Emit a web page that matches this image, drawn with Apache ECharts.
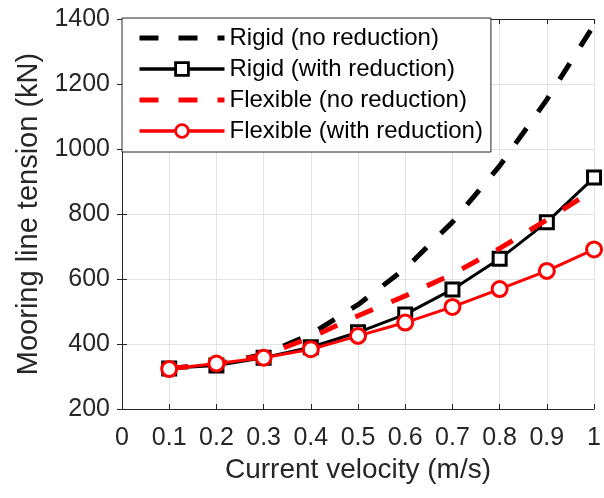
<!DOCTYPE html>
<html>
<head>
<meta charset="utf-8">
<script src="https://cdn.jsdelivr.net/npm/echarts@6/dist/echarts.min.js"></script>
<style>
html,body{margin:0;padding:0;background:#fff;}
#chart{width:604px;height:498px;}
</style>
</head>
<body>
<div id="chart"></div>
<script>
const velocity = [0.1, 0.2, 0.3, 0.4, 0.5, 0.6, 0.7, 0.8, 0.9, 1.0];
const rigidNoReduction = [325, 338, 368, 430, 521, 632, 775, 948, 1152, 1382];
const rigidWithReduction = [325, 334, 358, 390, 436, 491, 568, 662, 775, 912];
const flexibleNoReduction = [325, 338, 365, 420, 487, 548, 615, 694, 782, 875];
const flexibleWithReduction = [323, 340, 358, 384, 425, 466, 514, 569, 625, 691];
const xTicks = [0, 0.1, 0.2, 0.3, 0.4, 0.5, 0.6, 0.7, 0.8, 0.9, 1];
const yTicks = [200, 400, 600, 800, 1000, 1200, 1400];
const seriesNames = ['Rigid (no reduction)', 'Rigid (with reduction)', 'Flexible (no reduction)', 'Flexible (with reduction)'];

const pair = arr => velocity.map((v, i) => [v, arr[i]]);
const FONT = 'Liberation Sans, Helvetica, Arial, sans-serif';
const TXT = '#262626';
const DASH = [19, 20];

const chart = echarts.init(document.getElementById('chart'), null, {renderer: 'canvas'});

const xFmt = v => String(parseFloat(v.toFixed(1)));
const yFmt = v => String(Math.round(v));

const option = {
  animation: false,
  backgroundColor: '#ffffff',
  grid: {left: 122, right: 5, top: 19, bottom: 89, containLabel: false},
  legend: {
    orient: 'vertical',
    left: 122, top: 18,
    padding: [8, 8, 9, 15],
    itemGap: 7,
    itemWidth: 85, itemHeight: 16,
    backgroundColor: '#ffffff',
    borderColor: TXT, borderWidth: 1,
    textStyle: {fontFamily: FONT, fontSize: 24, color: '#000'},
    data: [
      {name: seriesNames[0], lineStyle: {color: '#000', width: 5, type: DASH}, itemStyle: {color: 'rgba(0,0,0,0)', borderWidth: 0, opacity: 0}},
      {name: seriesNames[1], lineStyle: {color: '#000', width: 3.5, type: 'solid'}, itemStyle: {color: '#fff', borderColor: '#000', borderWidth: 2.8}},
      {name: seriesNames[2], lineStyle: {color: '#ff0000', width: 5, type: DASH}, itemStyle: {color: 'rgba(0,0,0,0)', borderWidth: 0, opacity: 0}},
      {name: seriesNames[3], lineStyle: {color: '#ff0000', width: 3.5, type: 'solid'}, itemStyle: {color: '#fff', borderColor: '#ff0000', borderWidth: 2.8}}
    ]
  },
  xAxis: [{
    type: 'value', min: xTicks[0], max: xTicks[xTicks.length - 1], interval: 0.1,
    name: 'Current velocity (m/s)', nameLocation: 'middle', nameGap: 45,
    nameTextStyle: {fontFamily: FONT, fontSize: 28, color: TXT},
    axisLine: {show: true, lineStyle: {color: TXT, width: 1}},
    axisTick: {show: true, inside: true, length: 5, lineStyle: {color: TXT}},
    axisLabel: {fontFamily: FONT, fontSize: 25, color: TXT, margin: 17, formatter: xFmt},
    splitLine: {show: true, lineStyle: {color: '#e3e3e3', width: 1}}
  }, {
    type: 'value', position: 'top', min: xTicks[0], max: xTicks[xTicks.length - 1], interval: 0.1,
    axisLine: {show: true, lineStyle: {color: TXT, width: 1}},
    axisTick: {show: true, inside: true, length: 5, lineStyle: {color: TXT}},
    axisLabel: {show: false}, splitLine: {show: false}
  }],
  yAxis: [{
    type: 'value', min: yTicks[0], max: yTicks[yTicks.length - 1], interval: 200,
    name: 'Mooring line tension (kN)', nameLocation: 'middle', nameGap: 79,
    nameTextStyle: {fontFamily: FONT, fontSize: 29, color: TXT},
    axisLine: {show: true, lineStyle: {color: TXT, width: 1}},
    axisTick: {show: true, inside: true, length: 5, lineStyle: {color: TXT}},
    axisLabel: {fontFamily: FONT, fontSize: 25, color: TXT, margin: 12, formatter: yFmt},
    splitLine: {show: true, lineStyle: {color: '#e3e3e3', width: 1}}
  }, {
    type: 'value', position: 'right', min: yTicks[0], max: yTicks[yTicks.length - 1], interval: 200,
    axisLine: {show: true, lineStyle: {color: TXT, width: 1}},
    axisTick: {show: true, inside: true, length: 5, lineStyle: {color: TXT}},
    axisLabel: {show: false}, splitLine: {show: false}
  }],
  series: [{
    name: seriesNames[0], type: 'line', data: pair(rigidNoReduction),
    symbol: 'none',
    lineStyle: {color: '#000', width: 5, type: DASH},
    itemStyle: {color: '#000'}, z: 2
  }, {
    name: seriesNames[1], type: 'line', data: pair(rigidWithReduction),
    symbol: 'rect', symbolSize: 13,
    lineStyle: {color: '#000', width: 3},
    itemStyle: {color: '#ffffff', borderColor: '#000', borderWidth: 3}, z: 3
  }, {
    name: seriesNames[2], type: 'line', data: pair(flexibleNoReduction),
    symbol: 'none',
    lineStyle: {color: '#ff0000', width: 5, type: DASH},
    itemStyle: {color: '#ff0000'}, z: 4
  }, {
    name: seriesNames[3], type: 'line', data: pair(flexibleWithReduction),
    symbol: 'circle', symbolSize: 15,
    lineStyle: {color: '#ff0000', width: 3},
    itemStyle: {color: '#ffffff', borderColor: '#ff0000', borderWidth: 3}, z: 5
  }]
};
chart.setOption(option);
</script>
</body>
</html>
